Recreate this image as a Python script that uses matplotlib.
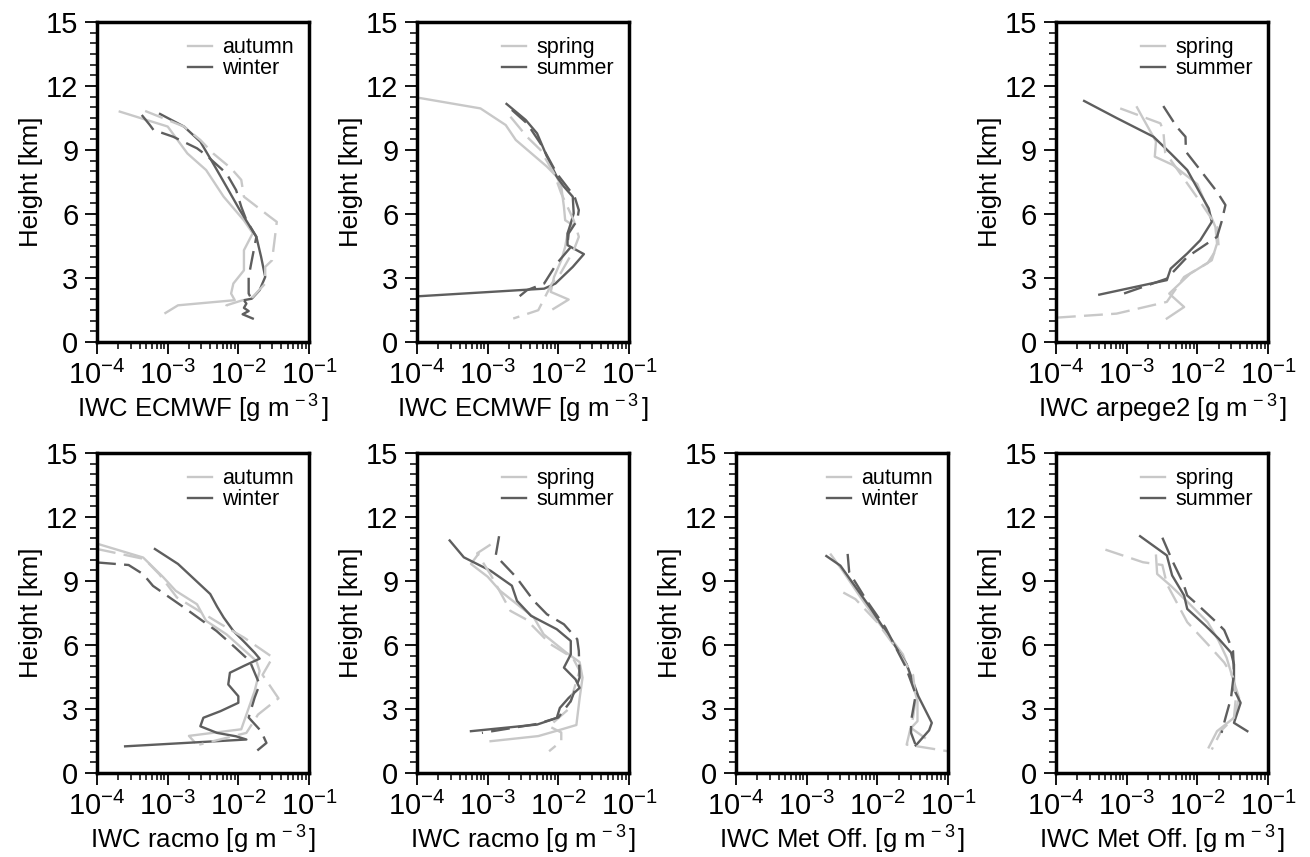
import numpy as np
import matplotlib
matplotlib.use("Agg")
import matplotlib.pyplot as plt
from matplotlib.ticker import LogLocator, MultipleLocator, NullFormatter, LogFormatterSciNotation

# ---- data: IWC [g m-3] vs height [km]; "mod" = solid, "obs" = dashed ----
# ECMWF, autumn / winter
ecmwf_autumn_mod_iwc = [2.1e-4, 1.0e-3, 1.9e-3, 3.5e-3, 6.2e-3, 1.2e-2, 1.6e-2, 1.2e-2, 1.2e-2, 8.5e-3, 7.9e-3, 8.9e-3, 1.4e-3, 9.3e-4]
ecmwf_autumn_mod_h = [10.8, 10.1, 8.84, 8.06, 6.81, 5.7, 5.1, 4.3, 3.36, 2.74, 2.27, 1.96, 1.72, 1.36]
ecmwf_autumn_obs_iwc = [4.8e-4, 1.7e-3, 2.9e-3, 4.4e-3, 7.9e-3, 1.1e-2, 1.2e-2, 2.8e-2, 3.5e-2, 3.3e-2, 3.0e-2, 2.4e-2, 2.4e-2, 1.6e-2, 6.8e-3, 6.5e-3]
ecmwf_autumn_obs_h = [10.83, 10.1, 9.47, 8.84, 8.14, 7.6, 6.81, 5.87, 5.63, 4.93, 3.83, 3.52, 2.74, 2.11, 1.72, 1.41]
ecmwf_winter_mod_iwc = [7.8e-4, 1.7e-3, 2.9e-3, 4.4e-3, 6.8e-3, 1.05e-2, 1.8e-2, 2.1e-2, 2.4e-2, 2.0e-2, 1.55e-2, 1.2e-2, 1.3e-2, 1.2e-2, 1.4e-2, 1.15e-2, 1.6e-2]
ecmwf_winter_mod_h = [10.69, 10.1, 9.39, 8.37, 7.28, 6.18, 4.93, 3.99, 3.05, 2.43, 2.03, 1.96, 1.8, 1.6, 1.45, 1.3, 1.1]
ecmwf_winter_obs_iwc = [4.3e-4, 5.6e-4, 6.3e-4, 1.2e-3, 2.6e-3, 3.5e-3, 6.8e-3, 9.3e-3, 1.1e-2, 1.3e-2, 1.8e-2, 1.55e-2, 1.4e-2, 1.4e-2, 1.6e-2]
ecmwf_winter_obs_h = [10.64, 10.17, 9.94, 9.62, 9.08, 8.76, 7.9, 7.12, 6.34, 5.71, 4.93, 3.83, 3.05, 2.27, 1.9]

# ECMWF, spring / summer
ecmwf_spring_mod_iwc = [1.0e-4, 7.9e-4, 1.8e-3, 2.5e-3, 6.9e-3, 9.5e-3, 1.1e-2, 1.2e-2, 1.25e-2, 1.6e-2, 1.35e-2, 1.25e-2, 1.1e-2, 8.7e-3, 8.1e-3, 7.8e-3, 1.4e-2, 8.5e-3]
ecmwf_spring_mod_h = [11.46, 10.95, 10.17, 9.47, 8.22, 7.75, 7.28, 6.34, 5.71, 5.48, 5.09, 4.46, 3.83, 3.05, 2.58, 2.35, 1.99, 1.55]
ecmwf_spring_obs_iwc = [2.1e-3, 3.6e-3, 5.6e-3, 8.7e-3, 1.1e-2, 1.65e-2, 1.95e-2, 1.65e-2, 1.07e-2, 8.1e-3, 5.2e-3, 2.3e-3]
ecmwf_spring_obs_h = [10.56, 9.62, 9.0, 7.9, 6.96, 5.71, 4.93, 4.3, 3.21, 2.74, 1.49, 1.1]
ecmwf_summer_mod_iwc = [1.85e-3, 3.45e-3, 5.0e-3, 6.9e-3, 9.5e-3, 1.2e-2, 1.6e-2, 1.65e-2, 1.5e-2, 1.35e-2, 1.35e-2, 2.3e-2, 1.6e-2, 9.1e-3, 6.3e-3, 1.0e-4]
ecmwf_summer_mod_h = [11.16, 10.41, 9.78, 8.69, 7.75, 7.28, 6.81, 6.03, 5.56, 5.09, 4.54, 4.12, 3.52, 2.74, 2.5, 2.14]
ecmwf_summer_obs_iwc = [2.2e-3, 3.6e-3, 5.6e-3, 9.5e-3, 1.7e-2, 1.95e-2, 1.85e-2, 1.4e-2, 1.35e-2, 1.5e-2, 9.5e-3, 6.3e-3, 3.6e-3, 2.5e-3]
ecmwf_summer_obs_h = [10.88, 10.25, 9.3, 7.9, 6.81, 6.18, 5.71, 5.09, 4.6, 4.45, 3.68, 2.74, 2.43, 2.0]

# arpege2, spring / summer
arpege_spring_mod_iwc = [1.4e-3, 1.7e-3, 2.6e-3, 2.5e-3, 4.5e-3, 1.0e-2, 1.8e-2, 1.9e-2, 1.6e-2, 7.9e-3, 4.0e-3, 6.5e-3, 3.7e-3]
arpege_spring_mod_h = [11.0, 10.49, 9.4, 8.69, 8.3, 7.4, 5.4, 4.62, 3.83, 3.2, 2.27, 1.64, 1.1]
arpege_spring_obs_iwc = [8.1e-4, 3.0e-3, 3.3e-3, 3.5e-3, 1.1e-2, 1.9e-2, 2.0e-2, 1.4e-2, 6.5e-3, 3.7e-3, 7.2e-4, 1.0e-4]
arpege_spring_obs_h = [10.95, 10.25, 9.9, 8.9, 6.57, 5.4, 4.5, 3.7, 3.05, 1.88, 1.33, 1.14]
arpege_summer_mod_iwc = [2.5e-4, 7.2e-4, 2.4e-3, 4.2e-3, 7.2e-3, 1.1e-2, 1.45e-2, 1.6e-2, 1.1e-2, 7.2e-3, 4.2e-3, 3.7e-3, 4.1e-4]
arpege_summer_mod_h = [11.3, 10.5, 9.62, 8.84, 8.06, 6.96, 6.26, 5.63, 4.77, 4.15, 3.44, 2.9, 2.22]
arpege_summer_obs_iwc = [3.3e-3, 5.1e-3, 6.8e-3, 6.9e-3, 1.1e-2, 1.9e-2, 2.5e-2, 2.2e-2, 1.9e-2, 7.2e-3, 3.7e-3, 9.1e-4, 8.9e-4]
arpege_summer_obs_h = [11.06, 10.09, 9.62, 8.92, 8.06, 7.04, 6.42, 5.63, 4.93, 3.99, 2.97, 2.27, 1.96]

# racmo, autumn / winter
racmo_autumn_mod_iwc = [1.0e-4, 4.5e-4, 8.7e-4, 1.3e-3, 2.6e-3, 3.5e-3, 6.8e-3, 1.8e-2, 2.0e-2, 1.7e-2, 1.1e-2, 2.0e-3, 2.4e-3]
racmo_autumn_mod_h = [10.75, 10.1, 9.17, 8.54, 7.91, 7.13, 6.5, 5.25, 4.78, 3.84, 2.05, 1.74, 1.45]
racmo_autumn_obs_iwc = [1.0e-4, 4.7e-4, 7.6e-4, 1.35e-3, 5.5e-3, 1.2e-2, 3.1e-2, 2.8e-2, 2.2e-2, 3.7e-2, 1.9e-2, 1.3e-2, 2.8e-3]
racmo_autumn_obs_h = [10.5, 10.03, 9.32, 8.23, 7.0, 6.35, 5.41, 5.2, 4.6, 3.5, 2.74, 1.88, 1.33]
racmo_winter_mod_iwc = [6.6e-4, 1.4e-3, 4.0e-3, 5.0e-3, 6.2e-3, 8.5e-3, 1.25e-2, 1.7e-2, 2.0e-2, 1.2e-2, 7.6e-3, 7.2e-3, 1.0e-2, 1.0e-2, 5.6e-3, 3.2e-3, 2.9e-3, 5.0e-3, 9.3e-3, 1.3e-2, 2.5e-4]
racmo_winter_mod_h = [10.5, 9.8, 8.39, 7.8, 7.29, 6.66, 6.1, 5.64, 5.36, 5.02, 4.7, 4.15, 3.6, 3.29, 2.9, 2.59, 2.19, 1.88, 1.72, 1.57, 1.25]
racmo_winter_obs_iwc = [1.0e-4, 2.8e-4, 4.5e-4, 6.2e-4, 1.7e-3, 4.9e-3, 8.9e-3, 1.45e-2, 2.0e-2, 1.7e-2, 1.4e-2, 2.1e-2, 2.5e-2, 1.8e-2]
racmo_winter_obs_h = [9.87, 9.75, 9.32, 8.77, 7.76, 6.66, 5.9, 5.25, 4.15, 3.53, 2.6, 1.96, 1.41, 1.02]

# racmo, spring / summer
racmo_spring_mod_iwc = [7.4e-4, 5.8e-4, 1.0e-3, 1.5e-3, 4.5e-3, 6.2e-3, 1.3e-2, 2.0e-2, 2.2e-2, 2.0e-2, 1.8e-2, 1.0e-2, 5.2e-3, 1.1e-3]
racmo_spring_mod_h = [10.27, 9.8, 9.2, 8.54, 7.29, 6.5, 5.64, 5.2, 4.47, 3.5, 2.25, 2.0, 1.73, 1.49]
racmo_spring_obs_iwc = [1.1e-3, 7.1e-4, 1.1e-3, 2.1e-3, 3.5e-3, 7.8e-3, 1.6e-2, 2.0e-2, 1.65e-2, 1.4e-2, 7.4e-3, 1.1e-2, 1.1e-2, 7.4e-3]
racmo_spring_obs_h = [10.71, 10.3, 9.3, 7.6, 7.2, 6.03, 5.4, 4.8, 3.87, 3.0, 2.19, 1.9, 1.49, 1.02]
racmo_summer_mod_iwc = [2.9e-4, 4.6e-4, 1.1e-3, 2.2e-3, 2.6e-3, 4.1e-3, 9.5e-3, 1.5e-2, 1.5e-2, 1.2e-2, 1.75e-2, 2.0e-2, 1.4e-2, 1.05e-2, 9.5e-3, 5.0e-3, 5.8e-4]
racmo_summer_mod_h = [10.9, 10.11, 9.48, 8.78, 8.07, 7.37, 6.74, 6.19, 5.56, 4.94, 4.39, 3.99, 3.52, 3.05, 2.58, 2.27, 1.96]
racmo_summer_obs_iwc = [1.45e-3, 1.3e-3, 2.5e-3, 4.5e-3, 6.9e-3, 1.2e-2, 1.85e-2, 1.95e-2, 2.0e-2, 1.5e-2, 1.0e-2, 5.0e-3, 8.3e-4]
racmo_summer_obs_h = [11.1, 10.19, 9.2, 8.07, 7.44, 6.97, 6.27, 5.72, 4.47, 3.37, 2.6, 2.3, 1.88]

# Met Office, autumn / winter
metoff_autumn_mod_iwc = [2.2e-3, 3.2e-3, 5.8e-3, 1.0e-2, 1.8e-2, 2.3e-2, 3.0e-2, 3.7e-2, 3.7e-2, 3.0e-2, 4.7e-2]
metoff_autumn_mod_h = [10.24, 9.5, 8.23, 7.13, 6.03, 5.56, 4.47, 3.37, 2.43, 2.11, 1.65]
metoff_autumn_obs_iwc = [3.3e-3, 4.9e-3, 1.0e-2, 1.8e-2, 3.2e-2, 3.5e-2, 3.2e-2, 2.6e-2, 1.0e-1]
metoff_autumn_obs_h = [8.46, 8.15, 7.06, 5.9, 4.6, 3.5, 2.6, 1.33, 1.02]
metoff_winter_mod_iwc = [1.9e-3, 3.0e-3, 7.9e-3, 1.5e-2, 2.6e-2, 3.8e-2, 5.9e-2, 5.4e-2, 3.5e-2]
metoff_winter_mod_h = [10.17, 9.72, 7.76, 6.35, 5.1, 3.6, 2.35, 2.0, 1.29]
metoff_winter_obs_iwc = [3.8e-3, 4.0e-3, 7.1e-3, 1.3e-2, 2.5e-2, 3.5e-2, 3.0e-2, 3.0e-2, 3.5e-2]
metoff_winter_obs_h = [10.27, 9.41, 8.07, 6.82, 5.0, 3.68, 2.43, 1.88, 1.29]

# Met Office, spring / summer
metoff_spring_mod_iwc = [2.6e-3, 2.7e-3, 4.2e-3, 7.9e-3, 1.4e-2, 2.0e-2, 2.6e-2, 3.2e-2, 3.9e-2, 3.3e-2, 1.9e-2, 1.45e-2]
metoff_spring_mod_h = [10.19, 9.33, 8.78, 7.9, 7.07, 6.2, 5.4, 4.4, 3.52, 2.59, 1.96, 1.2]
metoff_spring_obs_iwc = [5.0e-4, 1.7e-3, 3.2e-3, 3.7e-3, 7.2e-3, 1.4e-2, 2.4e-2, 3.2e-2, 3.5e-2, 3.3e-2, 2.2e-2, 1.6e-2]
metoff_spring_obs_h = [10.47, 9.88, 9.75, 8.86, 7.07, 6.04, 5.18, 4.5, 3.5, 2.59, 2.0, 1.1]
metoff_summer_mod_iwc = [1.55e-3, 3.7e-3, 4.4e-3, 6.5e-3, 7.2e-3, 1.3e-2, 2.0e-2, 3.0e-2, 3.3e-2, 3.3e-2, 4.1e-2, 3.3e-2, 5.1e-2]
metoff_summer_mod_h = [11.1, 10.2, 9.26, 8.32, 7.69, 6.91, 6.3, 5.64, 5.09, 3.92, 3.29, 2.35, 1.96]
metoff_summer_obs_iwc = [3.2e-3, 4.5e-3, 6.3e-3, 7.2e-3, 1.0e-2, 1.9e-2, 2.4e-2, 3.2e-2, 3.3e-2, 3.0e-2, 2.5e-2, 2.2e-2]
metoff_summer_obs_h = [11.03, 9.9, 8.9, 8.32, 7.9, 7.04, 6.7, 5.72, 4.7, 3.52, 2.58, 1.88]

height_ticks = [0, 3, 6, 9, 12, 15]
iwc_ticks = [1e-4, 1e-3, 1e-2, 1e-1]

LIGHT = "#c8c8c8"
DARK = "#5e5e5e"

plt.rcParams["font.family"] = ["Liberation Sans", "DejaVu Sans"]
plt.rcParams["mathtext.fontset"] = "custom"
plt.rcParams["mathtext.rm"] = "Liberation Sans"
plt.rcParams["mathtext.it"] = "Liberation Sans:italic"
plt.rcParams["mathtext.bf"] = "Liberation Sans:bold"

fig = plt.figure(figsize=(13.1, 8.57), dpi=100)
W, H = 1310.0, 857.0
col_left = [97, 417, 736, 1056]
row_top = [22, 453]
ax_w, ax_h = 212, 320


def make_axes(row, col):
    x0 = col_left[col] / W
    y0 = (H - row_top[row] - ax_h) / H
    return fig.add_axes([x0, y0, ax_w / W, ax_h / H])


def draw_panel(ax, model, seasons, lines):
    (a_mod, a_obs, b_mod, b_obs) = lines
    ax.plot(a_mod[0], a_mod[1], color=LIGHT, lw=1.7, label=seasons[0])
    ax.plot(b_mod[0], b_mod[1], color=DARK, lw=1.7, label=seasons[1])
    ax.plot(a_obs[0], a_obs[1], color=LIGHT, lw=1.7, dashes=(8, 3.5))
    ax.plot(b_obs[0], b_obs[1], color=DARK, lw=1.7, dashes=(8, 3.5))

    ax.set_xscale("log")
    ax.set_xlim(1e-4, 1e-1)
    ax.set_ylim(0, 15)
    ax.set_xticks(iwc_ticks)
    ax.xaxis.set_major_formatter(LogFormatterSciNotation())
    ax.xaxis.set_minor_locator(LogLocator(base=10, subs=np.arange(2, 10)))
    ax.xaxis.set_minor_formatter(NullFormatter())
    ax.set_yticks(height_ticks)
    ax.yaxis.set_minor_locator(MultipleLocator(0.5))

    ax.tick_params(which="major", direction="out", length=8.5, width=1.3, labelsize=21,
                   top=False, right=False, pad=5)
    ax.tick_params(which="minor", direction="out", length=5, width=1.1, top=False, right=False)
    for sp in ax.spines.values():
        sp.set_linewidth(2.5)

    ax.set_ylabel("Height [km]", fontsize=18.5, labelpad=2)
    ax.set_xlabel(r"IWC %s [g m$^{\,-3\,}$]" % model, fontsize=18.5, labelpad=2)
    ax.legend(loc="upper right", frameon=False, fontsize=15.5, handlelength=1.1,
              handletextpad=0.5, labelspacing=0.0, borderpad=0.1, borderaxespad=0.6)


panels = [
    (0, 0, "ECMWF", ("autumn", "winter"),
     ((ecmwf_autumn_mod_iwc, ecmwf_autumn_mod_h), (ecmwf_autumn_obs_iwc, ecmwf_autumn_obs_h),
      (ecmwf_winter_mod_iwc, ecmwf_winter_mod_h), (ecmwf_winter_obs_iwc, ecmwf_winter_obs_h))),
    (0, 1, "ECMWF", ("spring", "summer"),
     ((ecmwf_spring_mod_iwc, ecmwf_spring_mod_h), (ecmwf_spring_obs_iwc, ecmwf_spring_obs_h),
      (ecmwf_summer_mod_iwc, ecmwf_summer_mod_h), (ecmwf_summer_obs_iwc, ecmwf_summer_obs_h))),
    (0, 3, "arpege2", ("spring", "summer"),
     ((arpege_spring_mod_iwc, arpege_spring_mod_h), (arpege_spring_obs_iwc, arpege_spring_obs_h),
      (arpege_summer_mod_iwc, arpege_summer_mod_h), (arpege_summer_obs_iwc, arpege_summer_obs_h))),
    (1, 0, "racmo", ("autumn", "winter"),
     ((racmo_autumn_mod_iwc, racmo_autumn_mod_h), (racmo_autumn_obs_iwc, racmo_autumn_obs_h),
      (racmo_winter_mod_iwc, racmo_winter_mod_h), (racmo_winter_obs_iwc, racmo_winter_obs_h))),
    (1, 1, "racmo", ("spring", "summer"),
     ((racmo_spring_mod_iwc, racmo_spring_mod_h), (racmo_spring_obs_iwc, racmo_spring_obs_h),
      (racmo_summer_mod_iwc, racmo_summer_mod_h), (racmo_summer_obs_iwc, racmo_summer_obs_h))),
    (1, 2, "Met Off.", ("autumn", "winter"),
     ((metoff_autumn_mod_iwc, metoff_autumn_mod_h), (metoff_autumn_obs_iwc, metoff_autumn_obs_h),
      (metoff_winter_mod_iwc, metoff_winter_mod_h), (metoff_winter_obs_iwc, metoff_winter_obs_h))),
    (1, 3, "Met Off.", ("spring", "summer"),
     ((metoff_spring_mod_iwc, metoff_spring_mod_h), (metoff_spring_obs_iwc, metoff_spring_obs_h),
      (metoff_summer_mod_iwc, metoff_summer_mod_h), (metoff_summer_obs_iwc, metoff_summer_obs_h))),
]

for row, col, model, seasons, lines in panels:
    draw_panel(make_axes(row, col), model, seasons, lines)

fig.savefig("out.png", dpi=100)
